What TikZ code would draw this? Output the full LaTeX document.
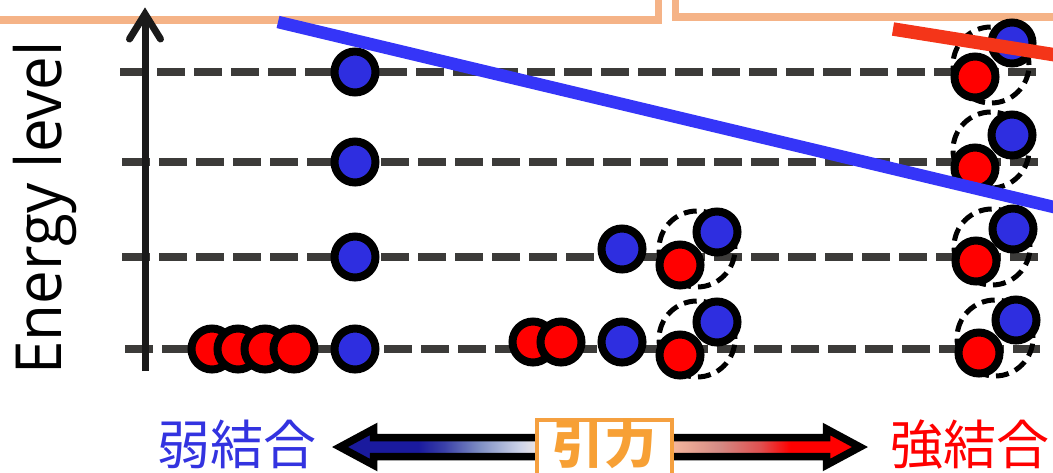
\documentclass[tikz,border=0pt]{standalone}
\usepackage{fontspec}
\newfontfamily\jpfont{Noto Sans CJK JP}
\newfontfamily\labelfont{Open Sans}

\definecolor{peachframe}{HTML}{F5B387}
\definecolor{levelgray}{HTML}{3C3B39}
\definecolor{axisblack}{HTML}{1A1A1A}
\definecolor{ballred}{HTML}{FF0000}
\definecolor{ballblue}{HTML}{2E2EE0}
\definecolor{trendblue}{HTML}{3535F8}
\definecolor{trendred}{HTML}{F43519}
\definecolor{weakblue}{HTML}{3333E0}
\definecolor{strongred}{HTML}{FF0000}
\definecolor{forceorange}{HTML}{F7A035}
\definecolor{boxorange}{HTML}{F5A040}
% colour stops of the attraction arrow
\definecolor{gNavy}{HTML}{1A1A9E}
\definecolor{gMid}{HTML}{3A40A8}
\definecolor{gSoft}{HTML}{8090C4}
\definecolor{gPale}{HTML}{CDD3E8}
\definecolor{gWhite}{HTML}{EDE6E6}
\definecolor{gPeach}{HTML}{F3B49C}
\definecolor{gRose}{HTML}{D48A84}
\definecolor{gWarm}{HTML}{E05050}
\definecolor{gRed}{HTML}{FF0000}

\pgfdeclarehorizontalshading{bondgrad}{100bp}{%
  color(0bp)=(gNavy); color(32.5bp)=(gNavy); color(35bp)=(gMid);
  color(38.5bp)=(gSoft); color(42.3bp)=(gPale); color(44bp)=(gWhite);
  color(50bp)=(white); color(57.2bp)=(gPeach); color(61.5bp)=(gRose);
  color(65.4bp)=(gWarm); color(68.3bp)=(gRed); color(100bp)=(gRed)}

\tikzset{
  frame/.style={peachframe, line width=7.5pt},
  level/.style={levelgray, line width=8pt, dash pattern=on 28pt off 9pt},
  axisline/.style={axisblack, line width=7pt},
  ball/.style={circle, draw=black, line width=8pt, minimum size=41pt, inner sep=0pt},
  redball/.style={ball, fill=ballred},
  blueball/.style={ball, fill=ballblue},
  pairring/.style={circle, draw=black, line width=5pt, dash pattern=on 13pt off 7pt,
    minimum size=76pt, inner sep=0pt},
  trend/.style={line width=12.5pt},
}

\begin{document}
\begin{tikzpicture}[x=1pt,y=-1pt]
\useasboundingbox (0,0) rectangle (1053,472);
\clip (0,0) rectangle (1053,472);

% panel edges along the top
\coordinate (fLa) at (-5,20);  \coordinate (fLb) at (658.5,20); \coordinate (fLc) at (658.5,-5);
\coordinate (fRa) at (675.5,-5); \coordinate (fRb) at (675.5,17); \coordinate (fRc) at (1060,17);
\draw[frame, line join=miter] (fLa) -- (fLb) -- (fLc);
\draw[frame, line join=miter] (fRa) -- (fRb) -- (fRc);

% energy levels
\foreach \n/\y/\xs in {1/72/120, 2/162/122, 3/257/122, 4/349/125}{
  \coordinate (lev\n a) at (\xs,\y);
  \coordinate (lev\n b) at (1040,\y);
  \draw[level] (lev\n a) -- (lev\n b);
}

% energy axis
\coordinate (axisBottom) at (145,371);
\coordinate (axisTop) at (145,18);
\coordinate (axisTip) at (145,14);
\coordinate (armL) at (129.5,39);
\coordinate (armR) at (160.5,39);
\draw[axisline] (axisBottom) -- (axisTop);
\draw[axisline, line cap=round, line join=miter] (armL) -- (axisTip) -- (armR);

\node[font=\labelfont\fontsize{60}{60}\selectfont, rotate=90, anchor=base, yscale=1.06,
      inner sep=0pt] (ylabel) at (61,208) {Energy level};

% paired states inside dashed rings
\node[pairring] (ringM3) at (697,249) {};
\node[pairring] (ringM4) at (697,339) {};
\node[pairring] (ringR1) at (991,65) {};
\node[pairring] (ringR2) at (991,150) {};
\node[pairring] (ringR3) at (992,247) {};
\node[pairring] (ringR4) at (995,338) {};

% single column
\node[blueball] (bA1) at (355,72) {};
\node[blueball] (bA2) at (355,162) {};
\node[blueball] (bA3) at (355,257) {};
\node[redball] (rW1) at (212,349) {};
\node[redball] (rW2) at (238,349) {};
\node[redball] (rW3) at (265,349) {};
\node[redball] (rW4) at (294,349) {};
\node[blueball] (bA4) at (355,349) {};

% intermediate column
\node[redball] (rM1) at (533,342) {};
\node[redball] (rM2) at (561,342) {};
\node[blueball] (bM3) at (622,249) {};
\node[blueball] (bM4) at (622,342) {};
\node[blueball] (bP3) at (717,232) {};
\node[redball] (rP3) at (680,265) {};
\node[blueball] (bP4) at (717,322) {};
\node[redball] (rP4) at (680,355) {};

% strong column
\node[blueball] (bS1) at (1012,43) {};
\node[redball] (rS1) at (975,77) {};
\node[blueball] (bS2) at (1012,135) {};
\node[redball] (rS2) at (975,168) {};
\node[blueball] (bS3) at (1013,229) {};
\node[redball] (rS3) at (976,261) {};
\node[blueball] (bS4) at (1016,320) {};
\node[redball] (rS4) at (979,353) {};

% boundary lines
\coordinate (blueStart) at (278,22);
\coordinate (blueEnd) at (1062,209);
\draw[trend, trendblue] (blueStart) -- (blueEnd);
\coordinate (redStart) at (893,29);
\coordinate (redEnd) at (1062,56);
\draw[trend, line width=13.5pt, trendred] (redStart) -- (redEnd);

% attraction scale
\draw[line width=7.5pt, line join=miter, shading=bondgrad, shading angle=0]
  (340,447) -- (373.5,429) -- (373.5,437.5) -- (826.5,437.5) -- (826.5,429)
  -- (860,447) -- (826.5,465) -- (826.5,456.5) -- (373.5,456.5) -- (373.5,465) -- cycle;
\node[draw=boxorange, line width=3.5pt, fill=white, minimum width=135pt,
      minimum height=80pt, anchor=north, inner sep=0pt] (forcebox) at (604.5,418) {};
\node[font=\jpfont\bfseries\fontsize{52}{52}\selectfont, text=forceorange, inner sep=0pt,
      anchor=base] (force) at (604.5,463) {引力};

\node[font=\jpfont\fontsize{53}{53}\selectfont, text=weakblue, inner sep=0pt, anchor=base]
  (weak) at (237,464) {弱結合};
\node[font=\jpfont\fontsize{53}{53}\selectfont, text=strongred, inner sep=0pt, anchor=base]
  (strong) at (970,464) {強結合};
\end{tikzpicture}
\end{document}
